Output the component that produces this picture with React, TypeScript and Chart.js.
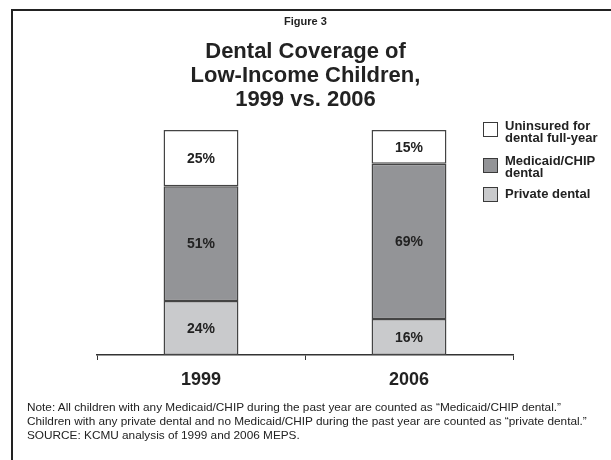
import React, { useEffect, useRef } from "react";
import { Chart, registerables } from "chart.js";

Chart.register(...registerables);

const categories = ["1999", "2006"];
const privateDental = [24, 16];
const medicaidDental = [51, 69];
const uninsuredDental = [25, 15];
const legendLabels = [
  ["Uninsured for", "dental full-year"],
  ["Medicaid/CHIP", "dental"],
  ["Private dental"],
];
const figureLabel = "Figure 3";
const titleLines = ["Dental Coverage of", "Low-Income Children,", "1999 vs. 2006"];
const noteLines = [
  "Note: All children with any Medicaid/CHIP during the past year are counted as \u201cMedicaid/CHIP dental.\u201d",
  "Children with any private dental and no Medicaid/CHIP during the past year are counted as \u201cprivate dental.\u201d",
  "SOURCE: KCMU analysis of 1999 and 2006 MEPS.",
];

const FONT = '"Liberation Sans", Arial, Helvetica, sans-serif';
const C_WHITE = "#ffffff";
const C_MED = "#939497";
const C_PRIV = "#c9cacc";
const C_BORDER = "#444444";
const C_TEXT = "#222222";

const valueLabels = {
  id: "valueLabels",
  afterDatasetsDraw(chart: any) {
    const ctx = chart.ctx;
    ctx.save();
    ctx.font = `bold 14px ${FONT}`;
    ctx.fillStyle = C_TEXT;
    ctx.textAlign = "center";
    ctx.textBaseline = "middle";
    chart.data.datasets.forEach((ds: any, di: number) => {
      const meta = chart.getDatasetMeta(di);
      meta.data.forEach((el: any, i: number) => {
        const v = ds.data[i];
        const p = el.getProps(["x", "y", "base"], true);
        ctx.fillText(`${v}%`, p.x, (p.y + p.base) / 2 + 1);
      });
    });
    ctx.restore();
  },
};

export default function App() {
  const canvasRef = useRef<HTMLCanvasElement | null>(null);

  useEffect(() => {
    const canvas = canvasRef.current;
    if (!canvas) return;
    const chart = new Chart(canvas, {
      type: "bar",
      data: {
        labels: categories,
        datasets: [
          { label: "Private dental", data: privateDental, backgroundColor: C_PRIV },
          { label: "Medicaid/CHIP dental", data: medicaidDental, backgroundColor: C_MED },
          { label: "Uninsured for dental full-year", data: uninsuredDental, backgroundColor: C_WHITE },
        ].map((d) => ({
          ...d,
          borderColor: C_BORDER,
          borderWidth: 1.5,
          borderSkipped: false,
          barPercentage: 0.36,
          categoryPercentage: 1,
        })),
      },
      options: {
        responsive: false,
        animation: false,
        layout: { padding: { left: 97, right: 98, top: 130, bottom: 0 } },
        plugins: {
          legend: { display: false },
          title: { display: false },
          tooltip: { enabled: false },
        },
        scales: {
          x: {
            stacked: true,
            offset: true,
            afterFit: (scale: any) => {
              scale.height = 105;
            },
            border: { display: true, color: "#333333", width: 1.5 },
            grid: {
              display: true,
              offset: true,
              drawOnChartArea: false,
              drawTicks: true,
              tickLength: 5,
              color: "#333333",
              lineWidth: 1,
            },
            ticks: {
              padding: 9,
              color: C_TEXT,
              font: { family: FONT, size: 18, weight: "bold" },
            },
          },
          y: {
            stacked: true,
            display: false,
            min: 0,
            max: 100,
          },
        },
      },
      plugins: [valueLabels],
    });
    return () => chart.destroy();
  }, []);

  const abs = (s: React.CSSProperties): React.CSSProperties => ({ position: "absolute", ...s });

  return (
    <div
      style={{
        position: "fixed",
        left: 0,
        top: 0,
        width: 611,
        height: 460,
        background: "#ffffff",
        overflow: "hidden",
        fontFamily: FONT,
        color: C_TEXT,
      }}
    >
      <div style={abs({ left: 11, top: 9, width: 700, height: 500, borderLeft: "2px solid #222", borderTop: "2px solid #222" })} />
      <canvas ref={canvasRef} width={611} height={460} style={abs({ left: 0, top: 0, width: 611, height: 460 })} />
      <div style={abs({ left: 0, width: 611, top: 15, textAlign: "center", fontSize: 11, lineHeight: "13px", fontWeight: "bold" })}>
        {figureLabel}
      </div>
      <div style={abs({ left: 0, width: 611, top: 38.5, textAlign: "center", fontSize: 22, lineHeight: "24px", fontWeight: "bold" })}>
        {titleLines.map((t, i) => (
          <div key={i}>{t}</div>
        ))}
      </div>
      {[
        { box: C_WHITE, boxTop: 121.5, textTop: 119.75 },
        { box: C_MED, boxTop: 157.5, textTop: 155 },
        { box: C_PRIV, boxTop: 186.5, textTop: 187.5 },
      ].map((it, i) => (
        <React.Fragment key={i}>
          <div
            style={abs({
              left: 482.5,
              top: it.boxTop,
              width: 13,
              height: 13,
              background: it.box,
              border: "1.5px solid #3a3a3a",
            })}
          />
          <div style={abs({ left: 505, top: it.textTop, fontSize: 13, lineHeight: "12px", fontWeight: "bold", whiteSpace: "nowrap" })}>
            {legendLabels[i].map((t, j) => (
              <div key={j}>{t}</div>
            ))}
          </div>
        </React.Fragment>
      ))}
      <div style={abs({ left: 27, top: 400, fontSize: 11.8, lineHeight: "14px", whiteSpace: "nowrap" })}>
        {noteLines.map((t, i) => (
          <div key={i}>{t}</div>
        ))}
      </div>
    </div>
  );
}
